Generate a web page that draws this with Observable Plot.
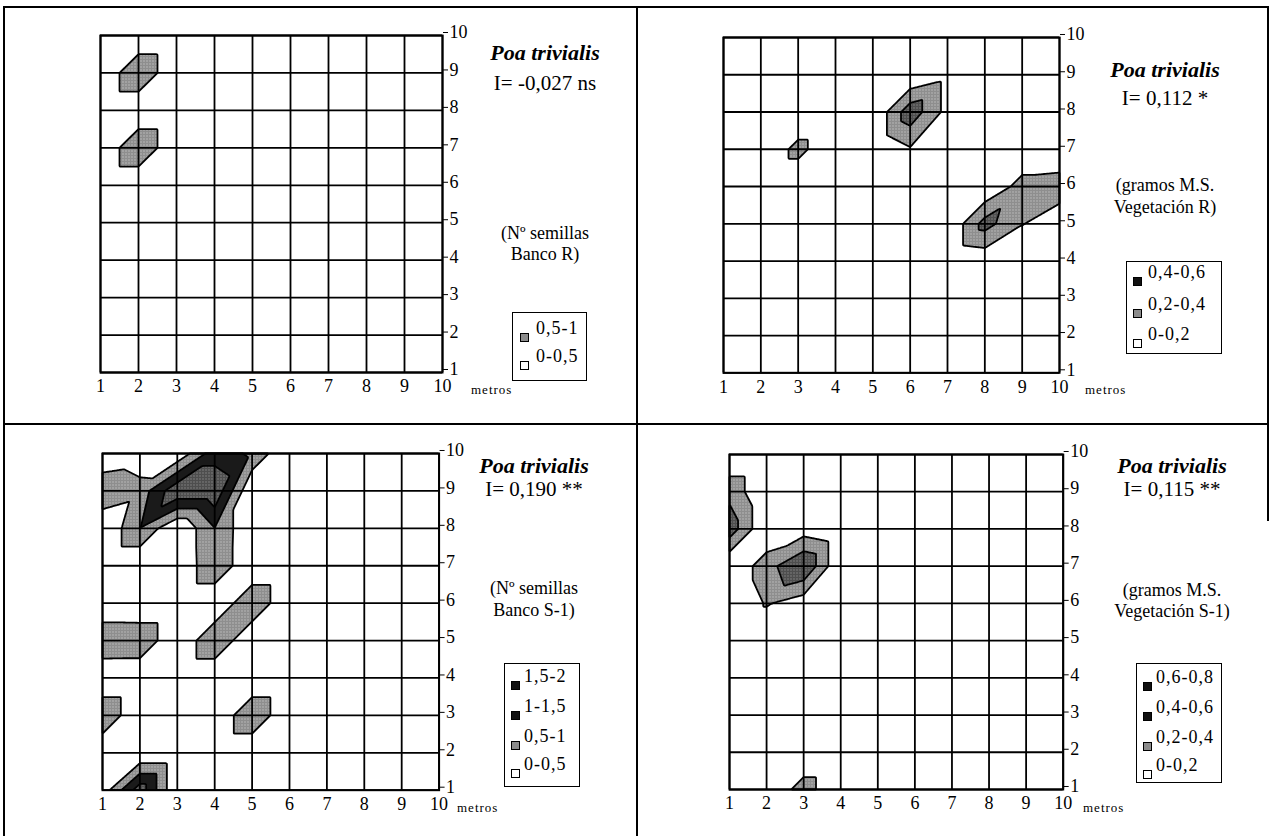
<!DOCTYPE html>
<html>
<head>
<meta charset="utf-8">
<script src="https://cdn.jsdelivr.net/npm/d3@7"></script>
<script src="https://cdn.jsdelivr.net/npm/@observablehq/plot@0.6"></script>
<style>
  html, body { margin: 0; padding: 0; background: #fff; }
  #page { position: relative; width: 1273px; height: 836px; overflow: hidden; background: #fff;
          font-family: "Liberation Serif", "Times New Roman", serif; color: #000; }
  .ln { position: absolute; background: #000; }
  .t { position: absolute; white-space: nowrap; transform: translate(-50%, -50%); line-height: 1; }
  .title { font-size: 22px; font-weight: bold; font-style: italic; }
  .idx { font-size: 21px; }
  .unit { font-size: 18px; }
  .metros { position: absolute; font-size: 13px; letter-spacing: 1px; white-space: nowrap; transform: translateY(-50%); }
  .leg { position: absolute; border: 1.5px solid #000; box-sizing: border-box; background: #fff; }
  .sw { position: absolute; width: 9px; height: 9px; box-sizing: border-box; border: 1.5px solid #000; }
  .lt { position: absolute; font-size: 18px; letter-spacing: 1px; white-space: nowrap; transform: translateY(-50%); line-height: 1; }
  .plotwrap { position: absolute; }
</style>
</head>
<body>
<svg width="0" height="0" style="position:absolute">
  <defs>
    <pattern id="stipple" width="3" height="3" patternUnits="userSpaceOnUse">
      <rect width="3" height="3" fill="#8e8e8e"></rect>
      <rect x="1" y="1" width="1" height="1" fill="#dcdcdc"></rect>
    </pattern>
    <pattern id="stippleDark" width="3" height="3" patternUnits="userSpaceOnUse">
      <rect width="3" height="3" fill="#4e4e4e"></rect>
      <rect x="1" y="1" width="1" height="1" fill="#a8a8a8"></rect>
    </pattern>
  </defs>
</svg>
<div id="page"></div>
<script>
// ---------------- data ----------------
const xTicks = [1, 2, 3, 4, 5, 6, 7, 8, 9, 10];
const yTicks = [1, 2, 3, 4, 5, 6, 7, 8, 9, 10];

// Grids: rows from y = 10 (top) down to y = 1; columns are x = 1..10
const bancoR = [
  [0, 0, 0, 0, 0, 0, 0, 0, 0, 0],
  [0, 1, 0, 0, 0, 0, 0, 0, 0, 0],
  [0, 0, 0, 0, 0, 0, 0, 0, 0, 0],
  [0, 1, 0, 0, 0, 0, 0, 0, 0, 0],
  [0, 0, 0, 0, 0, 0, 0, 0, 0, 0],
  [0, 0, 0, 0, 0, 0, 0, 0, 0, 0],
  [0, 0, 0, 0, 0, 0, 0, 0, 0, 0],
  [0, 0, 0, 0, 0, 0, 0, 0, 0, 0],
  [0, 0, 0, 0, 0, 0, 0, 0, 0, 0],
  [0, 0, 0, 0, 0, 0, 0, 0, 0, 0]
];
const vegetacionR = [
  [0, 0, 0, 0, 0, 0, 0, 0, 0, 0],
  [0, 0, 0, 0, 0, 0, 0.13, 0, 0, 0],
  [0, 0, 0, 0, 0, 0.53, 0.13, 0, 0, 0],
  [0, 0, 0.27, 0, 0, 0.18, 0, 0, 0, 0],
  [0, 0, 0, 0, 0, 0, 0, 0, 0.29, 0.32],
  [0, 0, 0, 0, 0, 0, 0, 0.48, 0.21, 0.06],
  [0, 0, 0, 0, 0, 0, 0, 0.05, 0, 0],
  [0, 0, 0, 0, 0, 0, 0, 0, 0, 0],
  [0, 0, 0, 0, 0, 0, 0, 0, 0, 0],
  [0, 0, 0, 0, 0, 0, 0, 0, 0, 0]
];
const bancoS1 = [
  [0, 0.15, 0.1, 1.3, 0.9, 0, 0, 0, 0, 0],
  [0.98, 0.7, 1.9, 1.9, 0, 0, 0, 0, 0, 0],
  [0, 0.98, 0, 0.99, 0, 0, 0, 0, 0, 0],
  [0, 0, 0, 0.96, 0, 0, 0, 0, 0, 0],
  [0, 0, 0, 0, 0.98, 0, 0, 0, 0, 0],
  [0.97, 0.95, 0, 0.98, 0, 0, 0, 0, 0, 0],
  [0, 0, 0, 0, 0, 0, 0, 0, 0, 0],
  [0.98, 0, 0, 0, 0.98, 0, 0, 0, 0, 0],
  [0, 0, 0, 0, 0, 0, 0, 0, 0, 0],
  [0.2, 1.8, 0, 0, 0, 0, 0, 0, 0, 0]
];
const vegetacionS1 = [
  [0, 0, 0, 0, 0, 0, 0, 0, 0, 0],
  [0.34, 0, 0, 0, 0, 0, 0, 0, 0, 0],
  [0.52, 0, 0.1, 0, 0, 0, 0, 0, 0, 0],
  [0, 0.32, 0.6, 0, 0, 0, 0, 0, 0, 0],
  [0, 0.22, 0.08, 0, 0, 0, 0, 0, 0, 0],
  [0, 0, 0, 0, 0, 0, 0, 0, 0, 0],
  [0, 0, 0, 0, 0, 0, 0, 0, 0, 0],
  [0, 0, 0, 0, 0, 0, 0, 0, 0, 0],
  [0, 0, 0, 0, 0, 0, 0, 0, 0, 0],
  [0, 0, 0.3, 0, 0, 0, 0, 0, 0, 0]
];

const thrBancoR = [0.5];
const thrVegetacionR = [0.2, 0.4];
const thrBancoS1 = [0.5, 1, 1.5];
const thrVegetacionS1 = [0.2, 0.4, 0.6];

const legBancoR = ["0,5-1", "0-0,5"];
const legVegetacionR = ["0,4-0,6", "0,2-0,4", "0-0,2"];
const legBancoS1 = ["1,5-2", "1-1,5", "0,5-1", "0-0,5"];
const legVegetacionS1 = ["0,6-0,8", "0,4-0,6", "0,2-0,4", "0-0,2"];

const species = ["Poa trivialis", "Poa trivialis", "Poa trivialis", "Poa trivialis"];
const moranI = ["I= -0,027 ns", "I= 0,112 *", "I= 0,190 **", "I= 0,115 **"];
const unitLines = [
  ["(Nº semillas", "Banco R)"],
  ["(gramos M.S.", "Vegetación R)"],
  ["(Nº semillas", "Banco S-1)"],
  ["(gramos M.S.", "Vegetación S-1)"]
];
const axisUnit = "metros";

// ---------------- styles / layout ----------------
const GRAY = "url(#stipple)";
const DARK = "url(#stippleDark)";
const fillsBancoR = [GRAY];
const fillsVegetacionR = [GRAY, DARK];
const fillsBancoS1 = [GRAY, "#1a1a1a", DARK];
const fillsVegetacionS1 = [GRAY, DARK, "#1a1a1a"];
const swatchColors = { 0: "#fff", 1: "#8c8c8c", 2: "#111", 3: "#111" };

const ML = 12, MR = 40, MT = 12, MB = 40;

const panels = [
  { grid: bancoR, thr: thrBancoR, fills: fillsBancoR, leg: legBancoR,
    gx0: 100, gx1: 442, gy0: 35, gy1: 372,
    tx: 545, ty: [53, 83], uy: [233, 254], metX: 471, metY: 390,
    box: [512, 312, 75, 69], itemY: [15, 43], swX: 7, txtX: 23 },
  { grid: vegetacionR, thr: thrVegetacionR, fills: fillsVegetacionR, leg: legVegetacionR,
    gx0: 723.3, gx1: 1059.3, gy0: 36.7, gy1: 372,
    tx: 1165, ty: [70, 98], uy: [185, 207], metX: 1085, metY: 390,
    box: [1126, 261, 96, 93], itemY: [10, 42, 72], swX: 6, txtX: 21 },
  { grid: bancoS1, thr: thrBancoS1, fills: fillsBancoS1, leg: legBancoS1,
    gx0: 101.7, gx1: 438.3, gy0: 453.3, gy1: 790,
    tx: 534, ty: [466, 489], uy: [588, 610], metX: 457, metY: 808,
    box: [504, 663, 76, 124], itemY: [12, 42, 72, 100], swX: 6, txtX: 19 },
  { grid: vegetacionS1, thr: thrVegetacionS1, fills: fillsVegetacionS1, leg: legVegetacionS1,
    gx0: 729.3, gx1: 1063, gy0: 454.3, gy1: 789.3,
    tx: 1172, ty: [466, 489], uy: [590, 611], metX: 1083, metY: 808,
    box: [1136, 663, 86, 120], itemY: [13, 43, 73, 101], swX: 6, txtX: 19 }
];

// piecewise-linear surface on a triangulated grid (diagonals from lower-left to upper-right)
function surface(grid) {
  const v = (i, j) => grid[9 - j][i];
  return (x, y) => {
    const i = Math.min(8, Math.max(0, Math.floor(x - 1)));
    const j = Math.min(8, Math.max(0, Math.floor(y - 1)));
    const fx = x - 1 - i, fy = y - 1 - j;
    const bl = v(i, j), br = v(i + 1, j), tl = v(i, j + 1), tr = v(i + 1, j + 1);
    return fx >= fy ? bl + fx * (br - bl) + fy * (tr - br)
                    : bl + fy * (tl - bl) + fx * (tr - tl);
  };
}

const page = document.getElementById("page");
function el(cls, css, text) {
  const d = document.createElement("div");
  d.className = cls;
  Object.assign(d.style, css);
  if (text != null) d.textContent = text;
  page.appendChild(d);
  return d;
}

// frame lines
el("ln", { left: "3px", top: "6px", width: "1266px", height: "2px" });
el("ln", { left: "3px", top: "6px", width: "2px", height: "830px" });
el("ln", { left: "636px", top: "6px", width: "2px", height: "830px" });
el("ln", { left: "3px", top: "423px", width: "1266px", height: "2px" });
el("ln", { left: "1267px", top: "6px", width: "2px", height: "515px" });

const FONT = "'Liberation Serif', 'Times New Roman', serif";

panels.forEach((p, k) => {
  const f = surface(p.grid);
  const W = p.gx1 - p.gx0 + ML + MR;
  const H = p.gy1 - p.gy0 + MT + MB;
  const contours = p.thr.map((t, i) => Plot.contour({
    x1: 1, y1: 1, x2: 10, y2: 10, value: f, thresholds: [t], pixelSize: 1,
    fill: p.fills[i], stroke: "#000", strokeWidth: 1.8
  }));
  const svg = Plot.plot({
    width: W, height: H,
    marginLeft: ML, marginRight: MR, marginTop: MT, marginBottom: MB,
    x: { domain: [1, 10] },
    y: { domain: [1, 10] },
    style: { fontFamily: FONT, fontSize: "18px",
             background: "transparent", color: "#000", overflow: "visible" },
    marks: [
      ...contours,
      Plot.gridX(xTicks, { stroke: "#000", strokeOpacity: 1, strokeWidth: 1.8 }),
      Plot.gridY(yTicks, { stroke: "#000", strokeOpacity: 1, strokeWidth: 1.8 }),
      Plot.frame({ stroke: "#000", strokeWidth: 2 }),
      Plot.axisX(xTicks, { tickSize: 0, tickPadding: 7, label: null, fontSize: 18, fontFamily: FONT,
                           tickFormat: d => String(d) }),
      Plot.axisY(yTicks, { anchor: "right", tickSize: 5, tickPadding: 2, dy: -3, label: null, fontSize: 18,
                           fontFamily: FONT, tickFormat: d => String(d) })
    ]
  });
  const wrap = el("plotwrap", { left: (p.gx0 - ML) + "px", top: (p.gy0 - MT) + "px" });
  wrap.appendChild(svg);

  el("t title", { left: p.tx + "px", top: p.ty[0] + "px" }, species[k]);
  el("t idx", { left: p.tx + "px", top: p.ty[1] + "px" }, moranI[k]);
  el("t unit", { left: p.tx + "px", top: p.uy[0] + "px" }, unitLines[k][0]);
  el("t unit", { left: p.tx + "px", top: p.uy[1] + "px" }, unitLines[k][1]);
  el("metros", { left: p.metX + "px", top: p.metY + "px" }, axisUnit);

  const [bx, by, bw, bh] = p.box;
  const box = el("leg", { left: bx + "px", top: by + "px", width: bw + "px", height: bh + "px" });
  const n = p.leg.length;
  p.leg.forEach((lab, i) => {
    const level = n - 1 - i;
    const sw = document.createElement("div");
    sw.className = "sw";
    Object.assign(sw.style, { left: p.swX + "px", top: (p.itemY[i] + 5) + "px", background: swatchColors[level] });
    box.appendChild(sw);
    const tx = document.createElement("div");
    tx.className = "lt";
    Object.assign(tx.style, { left: p.txtX + "px", top: p.itemY[i] + "px" });
    tx.textContent = lab;
    box.appendChild(tx);
  });
});
</script>
</body>
</html>
